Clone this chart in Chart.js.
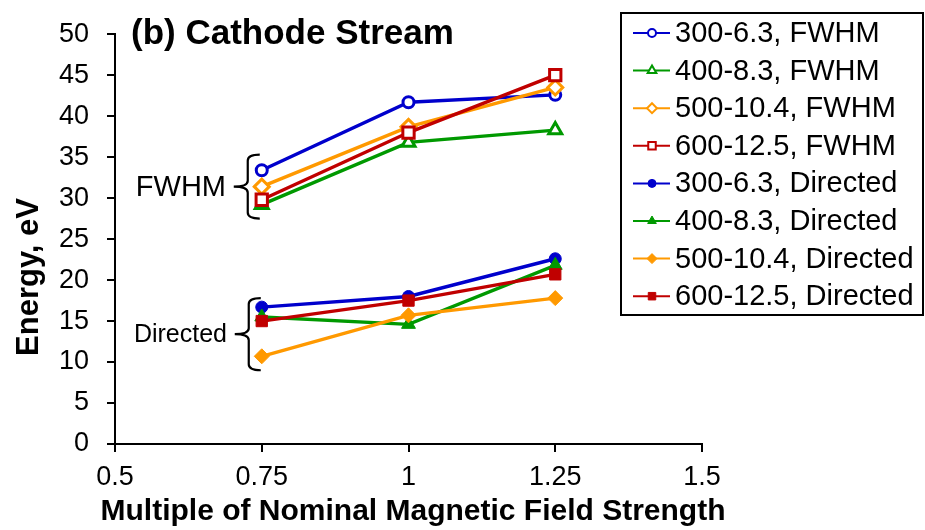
<!DOCTYPE html>
<html><head><meta charset="utf-8">
<script src="https://cdn.jsdelivr.net/npm/chart.js@4/dist/chart.umd.min.js"></script>
<style>html,body{margin:0;padding:0;background:#fff}#wrap{width:925px;height:530px;position:relative}</style>
</head><body><div id="wrap"><canvas id="c" width="925" height="530"></canvas></div>
<script>
// ---- data ----
const FIELD_MULTIPLES = [0.75, 1.0, 1.25];
const X_TICKS = [0.5, 0.75, 1, 1.25, 1.5];
const Y_TICKS = [0, 5, 10, 15, 20, 25, 30, 35, 40, 45, 50];
const SERIES_LABELS = ['300-6.3, FWHM','400-8.3, FWHM','500-10.4, FWHM','600-12.5, FWHM',
  '300-6.3, Directed','400-8.3, Directed','500-10.4, Directed','600-12.5, Directed'];
const FWHM_300 = [33.4, 41.7, 42.6];
const FWHM_400 = [29.2, 36.8, 38.3];
const FWHM_500 = [31.4, 38.7, 43.5];
const FWHM_600 = [29.8, 38.0, 45.0];
const DIR_300 = [16.7, 18.0, 22.6];
const DIR_400 = [15.5, 14.6, 21.8];
const DIR_500 = [10.7, 15.7, 17.8];
const DIR_600 = [15.0, 17.5, 20.7];
const TITLE = '(b) Cathode Stream';
const X_TITLE = 'Multiple of Nominal Magnetic Field Strength';
const Y_TITLE = 'Energy, eV';
const GROUP_LABELS = ['FWHM', 'Directed'];

// ---- styles ----
const BLUE = '#0000CC', GREEN = '#009900', ORANGE = '#FF9900', RED = '#C00000';
const FONT = '"Liberation Sans", Arial, Helvetica, sans-serif';
Chart.defaults.font.family = FONT;
Chart.defaults.color = '#000';

const seriesValues = [FWHM_300, FWHM_400, FWHM_500, FWHM_600, DIR_300, DIR_400, DIR_500, DIR_600];
const colors = [BLUE, GREEN, ORANGE, RED, BLUE, GREEN, ORANGE, RED];
const shapes = ['circle', 'triangle', 'rectRot', 'rect', 'circle', 'triangle', 'rectRot', 'rect'];
const radii = [5.5, 7.5, 7.5, 8, 6, 8, 7.5, 8];

const datasets = seriesValues.map((vals, i) => {
  const open = i < 4;
  return {
    label: SERIES_LABELS[i],
    data: FIELD_MULTIPLES.map((x, k) => ({x: x, y: vals[k]})),
    showLine: true,
    borderColor: colors[i],
    borderWidth: 3.4,
    pointStyle: shapes[i],
    pointRadius: radii[i],
    pointBorderWidth: open ? 3 : 1,
    pointBorderColor: colors[i],
    pointBackgroundColor: open ? '#fff' : colors[i],
    order: 8 - i,
    fill: false,
    tension: 0
  };
});

function marker(ctx, shape, x, y, r, color, filled) {
  ctx.save();
  ctx.beginPath();
  if (shape === 'circle') {
    ctx.arc(x, y, r, 0, Math.PI * 2);
  } else if (shape === 'triangle') {
    ctx.moveTo(x, y - r);
    ctx.lineTo(x + r * 0.866, y + r * 0.5);
    ctx.lineTo(x - r * 0.866, y + r * 0.5);
    ctx.closePath();
  } else if (shape === 'rectRot') {
    ctx.moveTo(x, y - r); ctx.lineTo(x + r, y); ctx.lineTo(x, y + r); ctx.lineTo(x - r, y); ctx.closePath();
  } else {
    const s = r * 0.75;
    ctx.rect(x - s, y - s, 2 * s, 2 * s);
  }
  ctx.fillStyle = filled ? color : '#fff';
  ctx.fill();
  ctx.lineWidth = filled ? 1 : 2;
  ctx.strokeStyle = color;
  ctx.stroke();
  ctx.restore();
}

function brace(ctx, x, yTop, yBot, yMid, wR, wL) {
  const r = 6;
  ctx.beginPath();
  ctx.moveTo(x + wR, yTop);
  ctx.quadraticCurveTo(x, yTop, x, yTop + r);
  ctx.lineTo(x, yMid - r);
  ctx.quadraticCurveTo(x, yMid, x - wL, yMid);
  ctx.quadraticCurveTo(x, yMid, x, yMid + r);
  ctx.lineTo(x, yBot - r);
  ctx.quadraticCurveTo(x, yBot, x + wR, yBot);
  ctx.stroke();
}

const decor = {
  id: 'decor',
  afterDraw(chart) {
    const ctx = chart.ctx;
    const xs = chart.scales.x, ys = chart.scales.y;
    ctx.save();
    // title
    ctx.fillStyle = '#000';
    ctx.font = 'bold 35px ' + FONT;
    ctx.textBaseline = 'middle';
    ctx.textAlign = 'left';
    ctx.fillText(TITLE, 131, 34);
    // x title
    ctx.textAlign = 'center';
    ctx.font = 'bold 30px ' + FONT;
    ctx.fillText(X_TITLE, 413, 512);
    // y title
    ctx.save();
    ctx.translate(29, 277);
    ctx.rotate(-Math.PI / 2);
    ctx.textAlign = 'center';
    ctx.font = 'bold 31px ' + FONT;
    ctx.fillText(Y_TITLE, 0, 0);
    ctx.restore();
    // braces
    ctx.strokeStyle = '#000';
    ctx.lineWidth = 2.2;
    const bx = xs.getPixelForValue(0.75) - 14;
    brace(ctx, bx, ys.getPixelForValue(35.3), ys.getPixelForValue(27.5), ys.getPixelForValue(31.4), 12, 14);
    brace(ctx, bx + 1, ys.getPixelForValue(17.8), ys.getPixelForValue(9.0), ys.getPixelForValue(13.4), 12, 14);
    ctx.textAlign = 'right';
    ctx.font = '29px ' + FONT;
    ctx.fillText(GROUP_LABELS[0], 226, ys.getPixelForValue(31.4) + 1);
    ctx.font = '25px ' + FONT;
    ctx.fillText(GROUP_LABELS[1], 227, ys.getPixelForValue(13.4) + 1);
    // legend
    const L = 621, T = 13, W = 302, H = 302;
    ctx.fillStyle = '#fff';
    ctx.fillRect(L, T, W, H);
    ctx.lineWidth = 2;
    ctx.strokeStyle = '#000';
    ctx.strokeRect(L, T, W, H);
    ctx.font = '29px ' + FONT;
    ctx.textAlign = 'left';
    chart.data.datasets.forEach((ds, i) => {
      const y = 33 + i * 37.6;
      ctx.strokeStyle = ds.borderColor;
      ctx.lineWidth = 2;
      ctx.beginPath(); ctx.moveTo(633, y); ctx.lineTo(670, y); ctx.stroke();
      marker(ctx, ds.pointStyle, 652, y, ds.pointStyle === 'circle' ? 4 : 5, ds.borderColor, i >= 4);
      ctx.fillStyle = '#000';
      ctx.fillText(ds.label, 675, y + 1);
    });
    ctx.restore();
  }
};

new Chart(document.getElementById('c'), {
  type: 'scatter',
  data: { datasets: datasets },
  options: {
    responsive: false,
    animation: false,
    devicePixelRatio: 1,
    layout: { padding: { left: 0, top: 21, right: 223, bottom: 0 } },
    plugins: { legend: { display: false }, tooltip: { enabled: false } },
    scales: {
      x: {
        type: 'linear', min: 0.5, max: 1.5,
        afterBuildTicks: s => { s.ticks = X_TICKS.map(v => ({ value: v })); },
        afterFit: s => { s.height = 86; },
        grid: { drawOnChartArea: false, drawTicks: true, tickLength: 8, color: '#000', lineWidth: 2 },
        border: { display: true, color: '#000', width: 2 },
        ticks: { font: { size: 27 }, color: '#000', padding: 9, maxRotation: 0, autoSkip: false,
          callback: v => String(v) },
        title: { display: false }
      },
      y: {
        type: 'linear', min: 0, max: 50,
        afterBuildTicks: s => { s.ticks = Y_TICKS.map(v => ({ value: v })); },
        afterFit: s => { s.width = 115; },
        grid: { drawOnChartArea: false, drawTicks: true, tickLength: 8, color: '#000', lineWidth: 2 },
        border: { display: true, color: '#000', width: 2 },
        ticks: { font: { size: 27 }, color: '#000', padding: 18, autoSkip: false },
        title: { display: false }
      }
    }
  },
  plugins: [decor]
});
</script></body></html>
